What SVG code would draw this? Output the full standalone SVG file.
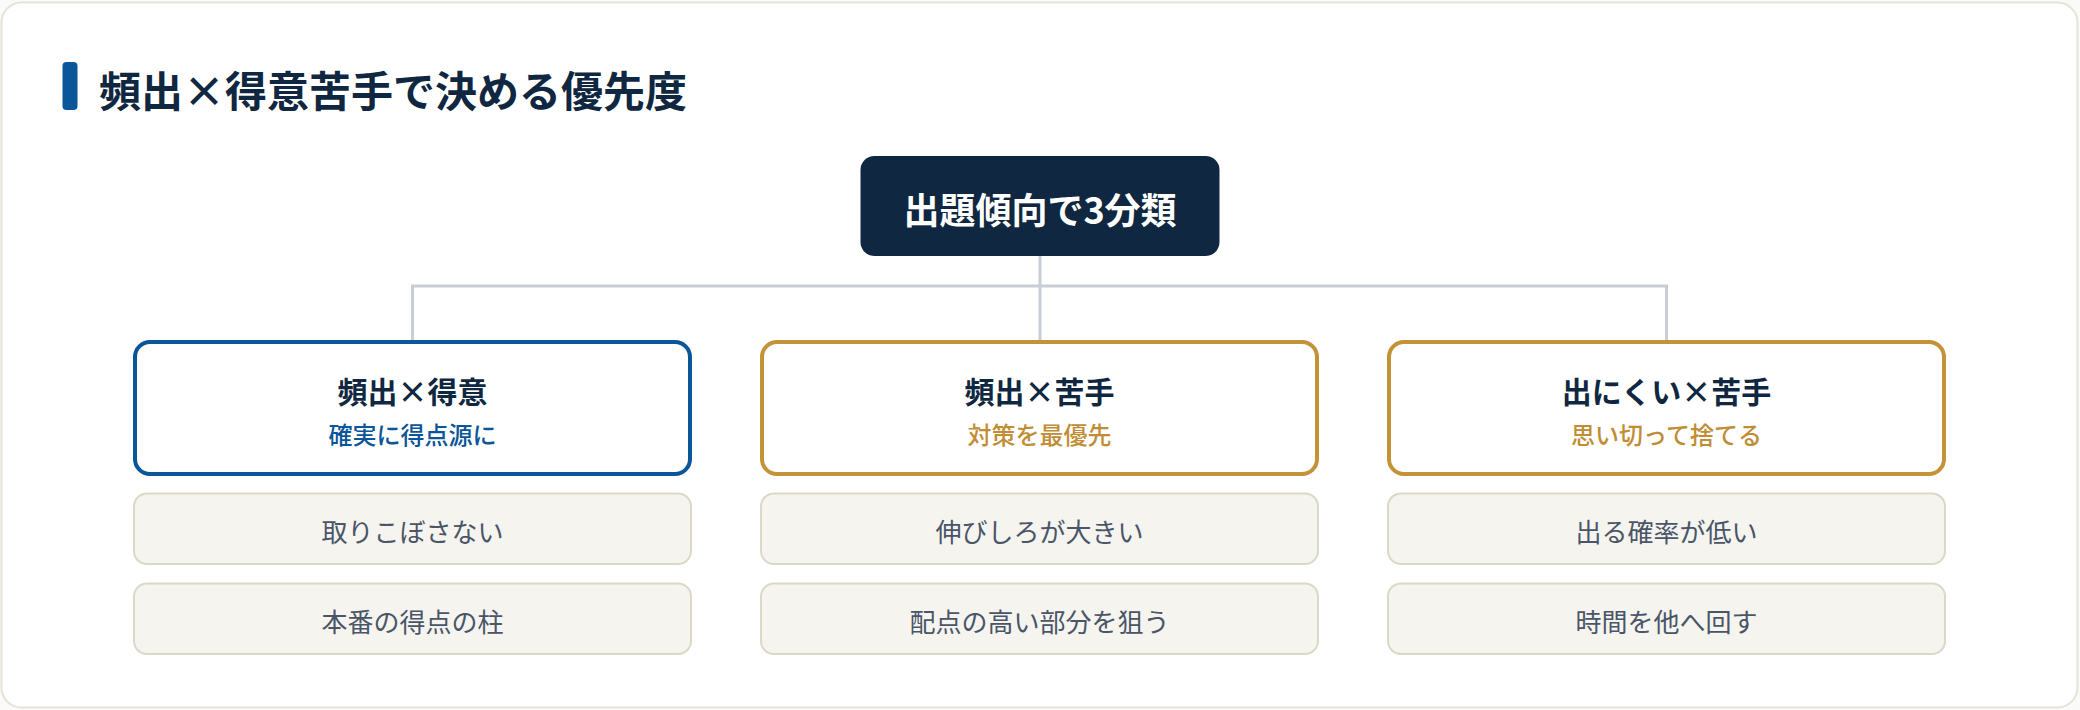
<svg xmlns="http://www.w3.org/2000/svg" width="2080" height="710" viewBox="0 0 2080 710">
  <style>
    .jp { font-family: "Noto Sans CJK JP", "Noto Sans", sans-serif; }
    .title { font-size: 42px; font-weight: 700; fill: #0f2740; }
    .root-text { font-size: 36px; font-weight: 700; fill: #ffffff; }
    .cat { fill: #ffffff; stroke-width: 4; }
    .cat-blue { stroke: #0b5599; }
    .cat-gold { stroke: #c49239; }
    .cat-title { font-size: 30px; font-weight: 700; fill: #0f2740; }
    .cat-sub { font-size: 24px; font-weight: 500; }
    .sub-blue { fill: #0b5599; }
    .sub-gold { fill: #c08d35; }
    .item { fill: #f5f4ef; stroke: #dcd8c8; stroke-width: 2; }
    .item-text { font-size: 26px; font-weight: 400; fill: #4a5568; }
    .conn { fill: none; stroke: #c8cdd6; stroke-width: 3; }
  </style>
  <rect x="0" y="0" width="2080" height="710" fill="#fafaf8"/>
  <rect x="1.5" y="2.5" width="2076" height="705" rx="20" fill="#ffffff" stroke="#e6e3d6" stroke-width="2"/>

  <g id="title">
    <rect x="62.5" y="62" width="15" height="48" rx="4" fill="#0b5599"/>
    <text class="jp title" x="99" y="88" dominant-baseline="central">頻出×得意苦手で決める優先度</text>
  </g>

  <g id="connectors">
    <path class="conn" d="M1040 256 V286 M412.5 340 V286 H1666.5 V340 M1040 286 V340"/>
  </g>

  <g id="root">
    <rect x="860.5" y="156" width="359" height="100" rx="14" fill="#0f2740"/>
    <text class="jp root-text" x="1040" y="208" text-anchor="middle" dominant-baseline="central">出題傾向で3分類</text>
  </g>

  <g id="cat-1">
    <rect class="cat cat-blue" x="135" y="342" width="555" height="132" rx="15"/>
    <text class="jp cat-title" x="412.5" y="390" text-anchor="middle" dominant-baseline="central">頻出×得意</text>
    <text class="jp cat-sub sub-blue" x="412.5" y="433" text-anchor="middle" dominant-baseline="central">確実に得点源に</text>
  </g>
  <g id="cat-2">
    <rect class="cat cat-gold" x="762" y="342" width="555" height="132" rx="15"/>
    <text class="jp cat-title" x="1039.5" y="390" text-anchor="middle" dominant-baseline="central">頻出×苦手</text>
    <text class="jp cat-sub sub-gold" x="1039.5" y="433" text-anchor="middle" dominant-baseline="central">対策を最優先</text>
  </g>
  <g id="cat-3">
    <rect class="cat cat-gold" x="1389" y="342" width="555" height="132" rx="15"/>
    <text class="jp cat-title" x="1666.5" y="390" text-anchor="middle" dominant-baseline="central">出にくい×苦手</text>
    <text class="jp cat-sub sub-gold" x="1666.5" y="433" text-anchor="middle" dominant-baseline="central">思い切って捨てる</text>
  </g>

  <g id="item-1a">
    <rect class="item" x="134" y="493.5" width="557" height="70.5" rx="13"/>
    <text class="jp item-text" x="412.5" y="530" text-anchor="middle" dominant-baseline="central">取りこぼさない</text>
  </g>
  <g id="item-1b">
    <rect class="item" x="134" y="583.5" width="557" height="70.5" rx="13"/>
    <text class="jp item-text" x="412.5" y="620" text-anchor="middle" dominant-baseline="central">本番の得点の柱</text>
  </g>
  <g id="item-2a">
    <rect class="item" x="761" y="493.5" width="557" height="70.5" rx="13"/>
    <text class="jp item-text" x="1039.5" y="530" text-anchor="middle" dominant-baseline="central">伸びしろが大きい</text>
  </g>
  <g id="item-2b">
    <rect class="item" x="761" y="583.5" width="557" height="70.5" rx="13"/>
    <text class="jp item-text" x="1039.5" y="620" text-anchor="middle" dominant-baseline="central">配点の高い部分を狙う</text>
  </g>
  <g id="item-3a">
    <rect class="item" x="1388" y="493.5" width="557" height="70.5" rx="13"/>
    <text class="jp item-text" x="1666.5" y="530" text-anchor="middle" dominant-baseline="central">出る確率が低い</text>
  </g>
  <g id="item-3b">
    <rect class="item" x="1388" y="583.5" width="557" height="70.5" rx="13"/>
    <text class="jp item-text" x="1666.5" y="620" text-anchor="middle" dominant-baseline="central">時間を他へ回す</text>
  </g>
</svg>
